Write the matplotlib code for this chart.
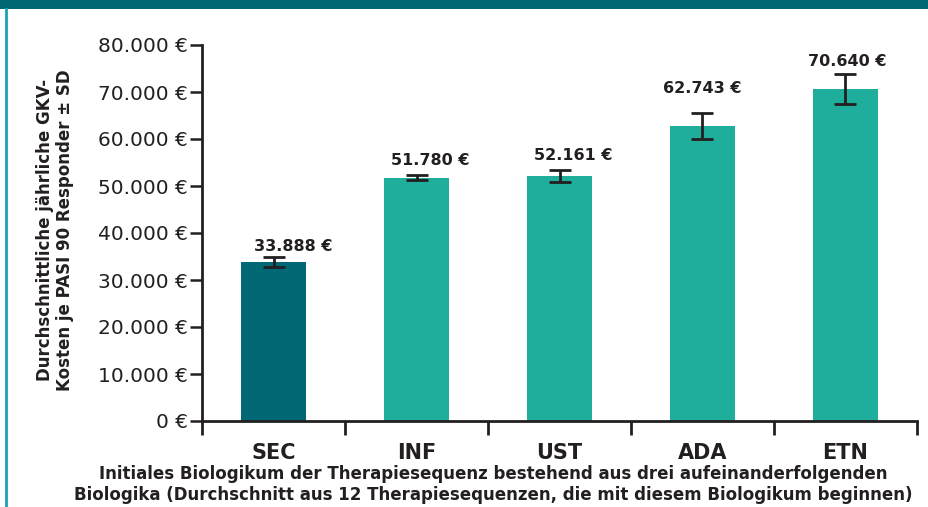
import matplotlib.pyplot as plt
from matplotlib.lines import Line2D
from matplotlib.patches import Rectangle

# data
categories = ["SEC", "INF", "UST", "ADA", "ETN"]
mean_cost = [33888, 51780, 52161, 62743, 70640]
sd_cost = [1100, 500, 1300, 2800, 3200]
value_labels = ["33.888 €", "51.780 €", "52.161 €", "62.743 €", "70.640 €"]
y_ticks = [0, 10000, 20000, 30000, 40000, 50000, 60000, 70000, 80000]
y_tick_labels = ["0 €", "10.000 €", "20.000 €", "30.000 €", "40.000 €",
                 "50.000 €", "60.000 €", "70.000 €", "80.000 €"]

# style
DARK = "#026876"
TEAL = "#20AE9C"
EDGE = "#1AA4AF"
INK = "#231F20"
bar_colors = [DARK, TEAL, TEAL, TEAL, TEAL]
label_shift = [(20, 10), (14, 15), (14, 14), (0, 24), (2, 12)]  # pixels

plt.rcParams["font.family"] = ["DejaVu Sans"]

fig = plt.figure(figsize=(9.29, 5.07), dpi=100)
ax = fig.add_axes([202 / 929, 1 - 421 / 507, 715 / 929, 376 / 507])

x = list(range(len(categories)))
ax.bar(x, mean_cost, width=0.46, color=bar_colors, zorder=2)
ax.errorbar(x, mean_cost, yerr=sd_cost, fmt="none", ecolor=INK,
            elinewidth=2, capsize=8, capthick=2, zorder=3)

for xi, v, s, lab, (dx, dy) in zip(x, mean_cost, sd_cost, value_labels, label_shift):
    ax.annotate(lab, (xi, v + s), xytext=(dx, dy), textcoords="offset pixels",
                ha="center", va="center", fontsize=11.5, fontweight="bold",
                color=INK)

ax.set_xlim(-0.5, len(categories) - 0.5)
ax.set_ylim(0, 80000)
ax.set_yticks(y_ticks)
ax.set_yticklabels(y_tick_labels, fontsize=14.5, color=INK)
ax.set_xticks([i + 0.5 for i in range(-1, len(categories))])
ax.set_xticklabels([])
ax.set_xticks(x, minor=True)
ax.set_xticklabels(categories, minor=True, fontsize=15, fontweight="bold",
                   color=INK)
ax.tick_params(axis="x", which="major", length=10, width=2, color=INK)
ax.tick_params(axis="x", which="minor", length=0, pad=16)
ax.tick_params(axis="y", length=9, width=1.8, color=INK, pad=1)

for side in ["top", "right"]:
    ax.spines[side].set_visible(False)
for side in ["left", "bottom"]:
    ax.spines[side].set_linewidth(2)
    ax.spines[side].set_color(INK)

fig.text(0.059, 0.546,
         "Durchschnittliche jährliche GKV-\nKosten je PASI 90 Responder ± SD",
         rotation=90, ha="center", va="center", multialignment="center",
         fontsize=12, fontweight="bold", color=INK, linespacing=1.12)

fig.text(0.531, 1 - 484.5 / 507,
         "Initiales Biologikum der Therapiesequenz bestehend aus drei aufeinanderfolgenden\n"
         "Biologika (Durchschnitt aus 12 Therapiesequenzen, die mit diesem Biologikum beginnen)",
         ha="center", va="center", multialignment="center",
         fontsize=12, fontweight="bold", color=INK, linespacing=1.15)

# frame: top band and left edge
fig.add_artist(Rectangle((0, 1 - 9 / 507), 1, 9 / 507, transform=fig.transFigure,
                         color=DARK, lw=0))
fig.add_artist(Line2D([6 / 929, 6 / 929], [0, 1 - 9 / 507], transform=fig.transFigure,
                      color=EDGE, lw=2))

fig.savefig("out.png", dpi=100)
